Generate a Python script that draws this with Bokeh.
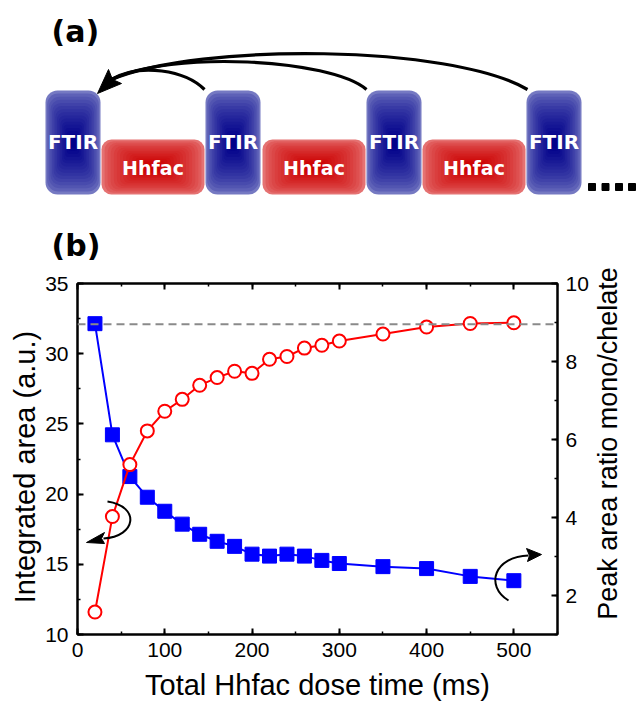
import math
from bokeh.plotting import figure
from bokeh.models import Range1d, LinearAxis, SingleIntervalTicker, Span, CustomJSTickFormatter
from bokeh.layouts import column, row
from bokeh.core.properties import value
from bokeh.embed import file_html
from bokeh.resources import INLINE

# ---------------- data ----------------
dose_ms = [20, 40, 60, 80, 100, 120, 140, 160, 180, 200, 220, 240, 260, 280, 300, 350, 400, 450, 500]
integrated_area = [11.6, 18.4, 22.1, 24.5, 25.9, 26.75, 27.75, 28.3, 28.75, 28.6, 29.6, 29.8,
                   30.4, 30.6, 30.9, 31.4, 31.9, 32.15, 32.2]
peak_ratio = [8.97, 6.12, 5.05, 4.52, 4.16, 3.83, 3.57, 3.39, 3.26, 3.06, 3.01, 3.06,
              3.01, 2.9, 2.82, 2.74, 2.69, 2.49, 2.38]
saturation_level = 32.1

stage_labels = ["FTIR", "Hhfac", "FTIR", "Hhfac", "FTIR", "Hhfac", "FTIR"]

FONT = "Liberation Sans"
BOLD = "DejaVu Sans"
W = 638
TOP_H = 265
BOT_H = 443
P_W = 591

# ---------------- panel (a): schematic (page-pixel coordinates) ----------------
top = figure(width=W, height=TOP_H, x_range=Range1d(0, W), y_range=Range1d(TOP_H, 0),
             x_axis_location=None, y_axis_location=None, toolbar_location=None,
             output_backend="svg", min_border=0)
top.grid.visible = False
top.outline_line_color = None


def _rgb(h):
    h = h.lstrip("#")
    return tuple(int(h[i:i + 2], 16) for i in (0, 2, 4))


def _mix(a, b, t):
    ca, cb = _rgb(a), _rgb(b)
    return "#%02x%02x%02x" % tuple(int(round(ca[k] + (cb[k] - ca[k]) * t)) for k in range(3))


def grad_box(fig, l, r, t, b, edge, center, radius, n=16):
    cx, cy = (l + r) / 2, (t + b) / 2
    hw, hh = (r - l) / 2, (b - t) / 2
    for i in range(n):
        tt = i / (n - 1)
        f = 1 - 0.9 * tt
        fig.quad(left=cx - hw * f, right=cx + hw * f, top=cy - hh * f, bottom=cy + hh * f,
                 fill_color=_mix(edge, center, tt ** 0.6), line_color=None,
                 border_radius=max(1, int(round(radius * f))))


box_left = [45, 101, 205, 262, 366, 422, 526]
box_right = [100, 204, 260, 365, 421, 525, 581]
box_top = {"FTIR": 90, "Hhfac": 139}
box_bottom = 194

for lab, l, r in zip(stage_labels, box_left, box_right):
    if lab == "FTIR":
        grad_box(top, l, r, box_top[lab], box_bottom, "#7579c2", "#00008a", 12)
    else:
        grad_box(top, l, r, box_top[lab], box_bottom, "#e57272", "#cc0000", 10)

ftir_x = [(l + r) / 2 for lab, l, r in zip(stage_labels, box_left, box_right) if lab == "FTIR"]
hh_x = [(l + r) / 2 for lab, l, r in zip(stage_labels, box_left, box_right) if lab == "Hhfac"]
top.text(x=ftir_x, y=[141] * len(ftir_x), text=["FTIR"] * len(ftir_x), text_color="white",
         text_font=value(BOLD), text_font_style="bold", text_font_size="20px",
         text_align="center", text_baseline="middle")
top.text(x=hh_x, y=[167] * len(hh_x), text=["Hhfac"] * len(hh_x), text_color="white",
         text_font=value(BOLD), text_font_style="bold", text_font_size="19px",
         text_align="center", text_baseline="middle")

# return arrows
top.bezier(x0=[204, 366, 527], y0=[89, 89, 89], x1=[111, 111, 111], y1=[79, 79, 79],
           cx0=[185, 330, 450], cy0=[70, 58, 44], cx1=[140, 170, 200], cy1=[62, 50, 42],
           line_color="black", line_width=3.2)
top.patch(x=[97, 108, 112, 121], y=[93, 69, 79, 83], color="black")

# continuation dots
top.rect(x=[591.5, 605, 618.5, 631.5], y=[186.5] * 4, width=7, height=7, color="black")

top.text(x=[51], y=[31], text=["(a)"], text_font=value(BOLD), text_font_style="bold",
         text_font_size="30px", text_align="left", text_baseline="middle", text_color="black")
top.text(x=[51], y=[245], text=["(b)"], text_font=value(BOLD), text_font_style="bold",
         text_font_size="30px", text_align="left", text_baseline="middle", text_color="black")

# ---------------- panel (b): chart ----------------
p = figure(width=P_W, height=BOT_H, x_range=Range1d(0, 550), y_range=Range1d(10, 35),
           toolbar_location=None, output_backend="svg",
           min_border_left=77, min_border_right=P_W - 557, min_border_top=18, min_border_bottom=74)
p.grid.visible = False
p.outline_line_color = "black"
p.outline_line_width = 2
p.extra_y_ranges = {"ratio": Range1d(1, 10)}

bottom_ax = p.below[0]
left_ax = p.left[0]
bottom_ax.ticker = SingleIntervalTicker(interval=100, num_minor_ticks=2)
left_ax.ticker = SingleIntervalTicker(interval=5, num_minor_ticks=2)
bottom_ax.axis_label = "Total Hhfac dose time (ms)"
left_ax.axis_label = "Integrated area (a.u.)\u00a0\u00a0"

right_ax = LinearAxis(y_range_name="ratio", ticker=SingleIntervalTicker(interval=2, num_minor_ticks=2))
p.add_layout(right_ax, "right")
top_ax = LinearAxis(ticker=SingleIntervalTicker(interval=100, num_minor_ticks=2),
                    formatter=CustomJSTickFormatter(code="return ''"))
p.add_layout(top_ax, "above")

for ax in [bottom_ax, left_ax, right_ax, top_ax]:
    ax.axis_line_width = 2
    ax.axis_line_color = "black"
    ax.major_tick_line_width = 2
    ax.minor_tick_line_width = 1.5
    ax.major_tick_in = 6
    ax.major_tick_out = 0
    ax.minor_tick_in = 3
    ax.minor_tick_out = 0
    ax.major_label_text_font = FONT
    ax.major_label_text_color = "black"
    ax.major_label_text_font_size = "21px"
    ax.axis_label_text_font = FONT
    ax.axis_label_text_font_style = "normal"
    ax.axis_label_text_color = "black"
    ax.axis_label_text_font_size = "29px"
top_ax.major_label_text_font_size = "2px"
top_ax.major_label_standoff = 0
bottom_ax.major_label_standoff = 8
bottom_ax.axis_label_standoff = 9
left_ax.major_label_standoff = 9
left_ax.axis_label_standoff = 1
right_ax.major_label_standoff = 8

p.add_layout(Span(location=saturation_level, dimension="width", line_color="#8a8a8a",
                  line_dash="8 5", line_width=2))

p.line(dose_ms, peak_ratio, y_range_name="ratio", line_color="#0000ff", line_width=2)
p.scatter(dose_ms, peak_ratio, y_range_name="ratio", marker="square", size=14,
          fill_color="#0000ff", line_color="#0000ff")
p.line(dose_ms, integrated_area, line_color="#ff0000", line_width=2)
p.scatter(dose_ms, integrated_area, marker="circle", size=13, fill_color="white",
          line_color="#ff0000", line_width=2)

# curved pointer arrows (annotation, positioned in page pixels and mapped to the frame)
FX0, FXS = 77.0, 480.0 / 550.0
FY0, FYS = 283.0, 351.0 / 25.0


def ax_x(px):
    return (px - FX0) / FXS


def ax_y(py):
    return 35 - (py - FY0) / FYS


arrows = [((107, 501), (140, 506), (136, 536), (103, 538)),
          ((508, 600), (484, 585), (494, 556), (528, 555))]
for (s, c0, c1, e) in arrows:
    p.bezier(x0=[ax_x(s[0])], y0=[ax_y(s[1])], x1=[ax_x(e[0])], y1=[ax_y(e[1])],
             cx0=[ax_x(c0[0])], cy0=[ax_y(c0[1])], cx1=[ax_x(c1[0])], cy1=[ax_y(c1[1])],
             line_color="black", line_width=2)
heads = [[(86, 542), (104, 532), (101, 538), (104, 543)],
         [(541, 554), (526, 548), (529, 555), (527, 561)]]
for hd in heads:
    p.patch(x=[ax_x(a) for a, b in hd], y=[ax_y(b) for a, b in hd], color="black")

# right-hand axis title strip (reads bottom-to-top as in the reference)
rt = figure(width=W - P_W, height=BOT_H, x_range=Range1d(P_W, W), y_range=Range1d(TOP_H + BOT_H, TOP_H),
            x_axis_location=None, y_axis_location=None, toolbar_location=None,
            output_backend="svg", min_border=0)
rt.grid.visible = False
rt.outline_line_color = None
rt.text(x=[607], y=[443], text=["Peak area ratio mono/chelate"], angle=math.pi / 2,
        text_align="center", text_baseline="middle", text_font=value(FONT),
        text_font_size="27px", text_color="black")

for fig in (top, p, rt):
    if "frame_align" in fig.properties():
        fig.frame_align = False

layout = column(top, row(p, rt))
open("out.html", "w").write(file_html(layout, INLINE))
